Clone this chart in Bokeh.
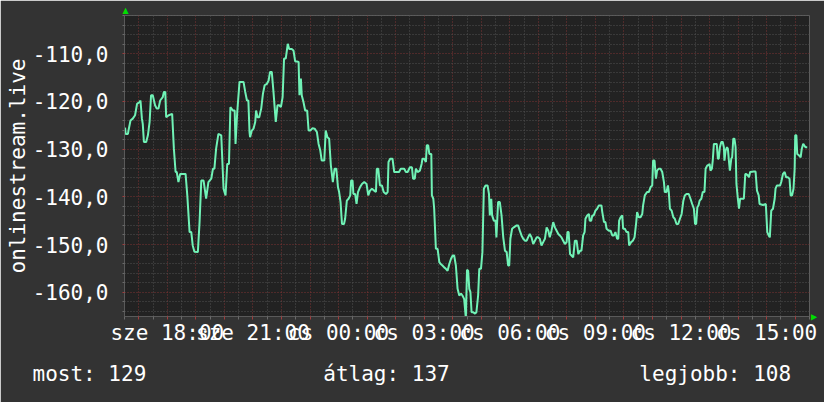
from bokeh.plotting import figure
from bokeh.models import FixedTicker, Range1d, Title
from bokeh.embed import file_html
from bokeh.resources import INLINE

# ---- data (hours since "sze 00:00", value) ----
hours = [
    16.52, 16.54, 16.62, 16.64, 16.71, 16.79, 16.87, 16.94, 17.03, 17.06, 17.11, 17.14, 17.18, 17.26,
    17.32, 17.38, 17.43, 17.49, 17.57, 17.63, 17.69, 17.75, 17.84, 17.88, 17.93, 17.96, 18.05, 18.17,
    18.23, 18.29, 18.33, 18.39, 18.45, 18.64, 18.70, 18.78, 18.84, 18.89, 18.95, 19.07, 19.13, 19.19,
    19.27, 19.36, 19.44, 19.54, 19.60, 19.65, 19.71, 19.79, 19.89, 19.97, 20.04, 20.10, 20.16, 20.21,
    20.30, 20.36, 20.39, 20.45, 20.53,
    20.67, 20.73, 20.79, 20.84, 20.88, 20.90, 20.96, 21.02, 21.08, 21.11, 21.16, 21.22, 21.29, 21.35,
    21.41, 21.49, 21.55, 21.60, 21.66, 21.72, 21.76, 21.80, 21.86, 21.92, 21.98, 22.04, 22.09, 22.15,
    22.22, 22.27, 22.36, 22.42, 22.48, 22.54, 22.60, 22.63, 22.68, 22.71, 22.77, 22.83, 22.90, 22.95,
    23.01, 23.09, 23.16, 23.24, 23.30, 23.36, 23.41, 23.50, 23.55, 23.61, 23.67, 23.73, 23.80, 23.86,
    23.92, 23.98, 24.02, 24.07, 24.12, 24.19, 24.23, 24.29, 24.35, 24.41, 24.44, 24.49,
    24.52, 24.58, 24.63, 24.68, 24.75, 24.82, 24.90, 24.98, 25.04, 25.10, 25.17, 25.25, 25.31, 25.34,
    25.39, 25.45, 25.52, 25.58, 25.66, 25.72, 25.75, 25.81, 25.89, 25.95, 26.12, 26.18, 26.30, 26.36,
    26.42, 26.50, 26.57, 26.61, 26.67, 26.71, 26.77, 26.85, 26.91, 26.94, 27.00, 27.06, 27.09, 27.14,
    27.18, 27.25, 27.27, 27.32, 27.35, 27.41, 27.47, 27.53, 27.58, 27.64, 27.70, 27.76, 27.82, 27.88,
    27.94, 28.00, 28.05, 28.11, 28.17, 28.23, 28.29, 28.34, 28.40, 28.46, 28.50,
    28.54, 28.58, 28.62, 28.66, 28.72, 28.78, 28.83, 28.89, 28.93, 28.99, 29.04, 29.09, 29.15, 29.22,
    29.27, 29.30, 29.35, 29.38, 29.44, 29.50, 29.53, 29.59, 29.65, 29.71, 29.77, 29.83, 29.89, 29.94,
    29.98, 30.02, 30.08, 30.14, 30.24, 30.29, 30.35, 30.41, 30.47, 30.53, 30.59, 30.64, 30.70, 30.76,
    30.82, 30.88, 30.94, 30.99, 31.05, 31.11, 31.17, 31.23, 31.29, 31.35, 31.40, 31.46, 31.52, 31.58,
    31.64, 31.70, 31.75, 31.81, 31.87, 31.93, 31.99, 32.02, 32.06, 32.11, 32.16, 32.22, 32.28, 32.34,
    32.40, 32.46, 32.51,
    32.57, 32.62, 32.65, 32.71, 32.77, 32.80, 32.85, 32.89, 32.94, 33.00, 33.06, 33.12, 33.21, 33.24,
    33.30, 33.35, 33.39, 33.47, 33.53, 33.59, 33.65, 33.70, 33.76, 33.80, 33.83, 33.88, 33.94, 33.97,
    34.03, 34.09, 34.15, 34.18, 34.25, 34.31, 34.37, 34.43, 34.46, 34.52, 34.58, 34.64, 34.67, 34.73,
    34.81, 34.87, 34.93, 34.99, 35.02, 35.07, 35.12, 35.16, 35.22, 35.28, 35.34, 35.40, 35.43, 35.49,
    35.54, 35.57, 35.61, 35.67, 35.73, 35.78, 35.84, 35.90, 35.96, 36.02, 36.08, 36.13, 36.19, 36.27,
    36.33, 36.39, 36.45,
    36.49, 36.53, 36.57, 36.61, 36.65, 36.71, 36.76, 36.82, 36.86, 36.92, 36.96, 37.00, 37.03, 37.08,
    37.11, 37.15, 37.25, 37.29, 37.32, 37.36, 37.41, 37.46, 37.50, 37.52, 37.56, 37.61, 37.64, 37.68,
    37.71, 37.76, 37.79, 37.83, 37.87, 37.91, 37.94, 37.99, 38.03, 38.07, 38.20, 38.25, 38.28, 38.34,
    38.38, 38.42, 38.55, 38.61, 38.66, 38.72, 38.75, 38.87, 38.97, 39.02, 39.07, 39.11, 39.16, 39.22,
    39.28, 39.31, 39.36, 39.47, 39.51, 39.57, 39.63, 39.68, 39.74, 39.80, 39.84, 39.89, 39.94, 39.98,
    40.00, 40.04, 40.07, 40.13, 40.19, 40.23, 40.28, 40.36, 40.42,
]
values = [
    -125.5, -126.8, -126.8, -126.1, -124.0, -123.6, -122.9, -120.5, -120.1, -119.8, -123.6, -124.7, -128.5, -128.5,
    -127.1, -124.3, -118.7, -118.7, -120.8, -121.5, -121.5, -119.8, -119.1, -118.0, -118.0, -123.3, -122.9, -122.6,
    -129.9, -134.8, -134.8, -136.9, -135.2, -135.2, -139.7, -147.4, -147.4, -150.2, -151.5, -151.6, -145.3, -136.6,
    -136.6, -140.4, -136.9, -136.2, -134.1, -134.1, -129.9, -126.8, -127.1, -138.3, -139.7, -133.1, -133.1, -121.2,
    -121.9, -121.9, -128.9, -122.2, -115.9,
    -115.9, -118.0, -119.8, -119.8, -126.4, -127.5, -126.1, -125.7, -124.3, -121.9, -123.3, -123.3, -121.5, -118.4,
    -116.6, -116.3, -115.6, -113.8, -113.8, -118.0, -121.2, -124.3, -120.8, -120.8, -121.2, -119.1, -111.0, -111.0,
    -107.9, -109.0, -109.0, -109.3, -111.6, -111.6, -111.7, -118.7, -115.2, -118.7, -120.1, -121.9, -121.9, -126.1,
    -126.1, -125.6, -125.7, -126.4, -128.9, -130.3, -132.4, -132.4, -126.1, -127.5, -127.8, -133.4, -136.9, -134.1,
    -134.1, -138.0, -139.0, -141.1, -145.7, -145.7, -144.6, -140.8, -140.4, -139.7, -136.6, -136.6,
    -139.4, -139.4, -141.5, -139.0, -138.0, -137.3, -136.9, -137.3, -139.7, -138.7, -138.3, -138.7, -139.0, -134.1,
    -134.1, -137.6, -137.6, -139.0, -139.4, -139.0, -132.7, -132.0, -132.0, -134.8, -134.8, -134.1, -134.1, -134.8,
    -134.8, -133.8, -133.8, -136.2, -136.2, -134.1, -134.8, -134.5, -133.1, -132.0, -132.0, -132.7, -129.2, -129.2,
    -131.0, -131.0, -139.7, -140.4, -142.5, -150.9, -150.9, -153.7, -154.1, -154.4, -154.8, -155.1, -155.5, -154.1,
    -153.0, -152.3, -152.3, -154.4, -159.3, -160.7, -160.3, -160.7, -161.4, -165.5, -155.3,
    -155.5, -159.3, -160.0, -164.2, -164.2, -164.5, -164.2, -160.7, -155.1, -155.1, -151.6, -138.3, -137.6, -137.6,
    -139.4, -143.9, -140.4, -143.9, -145.0, -145.0, -148.5, -141.1, -141.1, -143.9, -148.5, -151.3, -151.6, -154.4,
    -154.4, -148.8, -146.7, -146.4, -146.0, -146.0, -147.1, -148.1, -148.8, -149.2, -149.2, -148.5, -147.8, -148.5,
    -149.9, -149.2, -148.5, -148.5, -148.8, -150.2, -149.5, -148.8, -146.4, -147.1, -148.5, -147.1, -145.3, -146.4,
    -147.1, -147.8, -148.1, -148.5, -149.2, -149.9, -149.5, -147.4, -147.4, -152.0, -152.3, -152.7, -149.2, -149.2,
    -152.0, -151.3, -151.3,
    -148.1, -147.4, -144.6, -143.9, -143.6, -145.0, -145.0, -143.9, -143.9, -142.9, -142.5, -141.8, -141.8, -143.2,
    -145.3, -145.3, -146.7, -147.1, -147.1, -148.1, -148.1, -147.4, -148.8, -148.8, -145.0, -144.3, -143.9, -146.7,
    -146.7, -147.4, -147.4, -150.2, -149.5, -149.2, -148.5, -145.3, -143.2, -144.3, -144.3, -143.6, -141.8, -139.7,
    -139.0, -139.0, -138.0, -137.6, -132.4, -132.4, -136.2, -134.5, -134.1, -134.1, -134.8, -136.9, -139.0, -139.0,
    -137.6, -139.0, -142.5, -142.9, -144.3, -144.6, -145.7, -145.7, -144.6, -143.6, -140.8, -139.7, -139.4, -139.4,
    -140.4, -141.5, -142.5,
    -145.7, -145.7, -142.2, -141.8, -140.8, -140.4, -139.0, -139.0, -134.1, -133.4, -133.4, -133.1, -134.5, -134.1,
    -132.4, -128.9, -128.9, -132.0, -132.0, -129.6, -128.5, -128.5, -129.6, -132.4, -130.3, -129.6, -129.9, -132.7,
    -134.5, -132.0, -131.7, -127.8, -127.8, -129.6, -137.3, -140.4, -142.5, -140.4, -140.4, -135.2, -135.2, -135.5,
    -135.9, -134.8, -134.7, -134.7, -138.7, -139.7, -141.5, -141.7, -141.5, -147.4, -148.1, -148.5, -142.9, -142.5,
    -140.4, -138.3, -137.6, -137.6, -136.9, -135.2, -134.8, -135.9, -135.9, -136.2, -139.7, -139.7, -138.3, -134.1,
    -127.1, -127.1, -131.0, -131.3, -131.7, -129.9, -128.9, -129.6, -129.6,
]

x_label_hours = [18, 21, 24, 27, 30, 33, 36, 39]
x_labels = ["sze 18:00", "sze 21:00", "cs 00:00", "cs 03:00",
            "cs 06:00", "cs 09:00", "cs 12:00", "cs 15:00"]
y_label_values = [-160, -150, -140, -130, -120, -110]
y_labels = ["-160,0", "-150,0", "-140,0", "-130,0", "-120,0", "-110,0"]
y_title = "onlinestream.live"
legend_texts = ["most: 129", "átlag: 137", "legjobb: 108"]

FONT = "DejaVu Sans Mono"
FSIZE = "21px"
WHITE = "#ffffff"
MAJOR = "#7d3232"
MINOR = "#505050"
NB = "\u00a0"

p = figure(width=824, height=402, output_backend="svg", toolbar_location=None,
           x_range=Range1d(16.5, 40.5), y_range=Range1d(-165.1, -101.97),
           min_border_left=124, min_border_right=15, min_border_top=15, min_border_bottom=86)
p.background_fill_color = "#222222"
p.border_fill_color = "#333333"
p.outline_line_color = None

hour_ticks = list(range(17, 41))
half_ticks = [h + 0.5 for h in range(16, 41)]
y_minor = [v for v in range(-164, -101, 2) if v % 10 != 0]

xt = FixedTicker(ticks=hour_ticks, minor_ticks=half_ticks)
yt = FixedTicker(ticks=y_label_values, minor_ticks=y_minor)

p.xaxis.ticker = xt
p.xgrid.ticker = xt
p.yaxis.ticker = yt
p.ygrid.ticker = yt

for g in (p.xgrid, p.ygrid):
    g.grid_line_color = MAJOR
    g.grid_line_dash = "1 2"
    g.grid_line_width = 1
    g.minor_grid_line_color = MINOR
    g.minor_grid_line_dash = "1 2"
    g.minor_grid_line_width = 1

overrides = {h: "" for h in hour_ticks}
overrides.update(dict(zip(x_label_hours, x_labels)))
p.xaxis.major_label_overrides = overrides
p.yaxis.major_label_overrides = dict(zip(y_label_values, y_labels))

for ax in (p.xaxis, p.yaxis):
    ax.axis_line_color = "#5a5a5a"
    ax.major_tick_line_color = "#a03c3c"
    ax.minor_tick_line_color = "#6a6a6a"
    ax.major_tick_in = 0
    ax.minor_tick_in = 0
    ax.major_label_text_font = FONT
    ax.major_label_text_font_size = FSIZE
    ax.major_label_text_color = WHITE
p.xaxis.major_tick_out = 3
p.xaxis.minor_tick_out = 3
p.yaxis.major_tick_out = 2
p.yaxis.minor_tick_out = 2
p.xaxis.major_label_standoff = 1
p.yaxis.major_label_standoff = 14

p.yaxis.axis_label = y_title
p.yaxis.axis_label_text_font = FONT
p.yaxis.axis_label_text_font_size = FSIZE
p.yaxis.axis_label_text_font_style = "normal"
p.yaxis.axis_label_text_color = WHITE
p.yaxis.axis_label_standoff = 0

p.line(hours, values, line_color="#70f2b6", line_width=2)

# bottom summary line (monospaced, columns aligned like the reference)
summary = (legend_texts[0] + NB * 14 + legend_texts[1] + NB * 15 + legend_texts[2])
p.add_layout(Title(text=summary, align="left", offset=-92, standoff=24,
                   text_font=FONT, text_font_size=FSIZE, text_font_style="normal",
                   text_color=WHITE), "below")

# axis arrows
p.add_layout(Title(text="▲", align="left", offset=-2, standoff=2,
                   text_font="DejaVu Sans", text_font_size="8px", text_font_style="normal",
                   text_color="#00dd00"), "above")
p.add_layout(Title(text="▲", align="right", offset=-4, standoff=0,
                   text_font="DejaVu Sans", text_font_size="8px", text_font_style="normal",
                   text_color="#00dd00"), "right")

open("out.html", "w").write(file_html(p, INLINE))
